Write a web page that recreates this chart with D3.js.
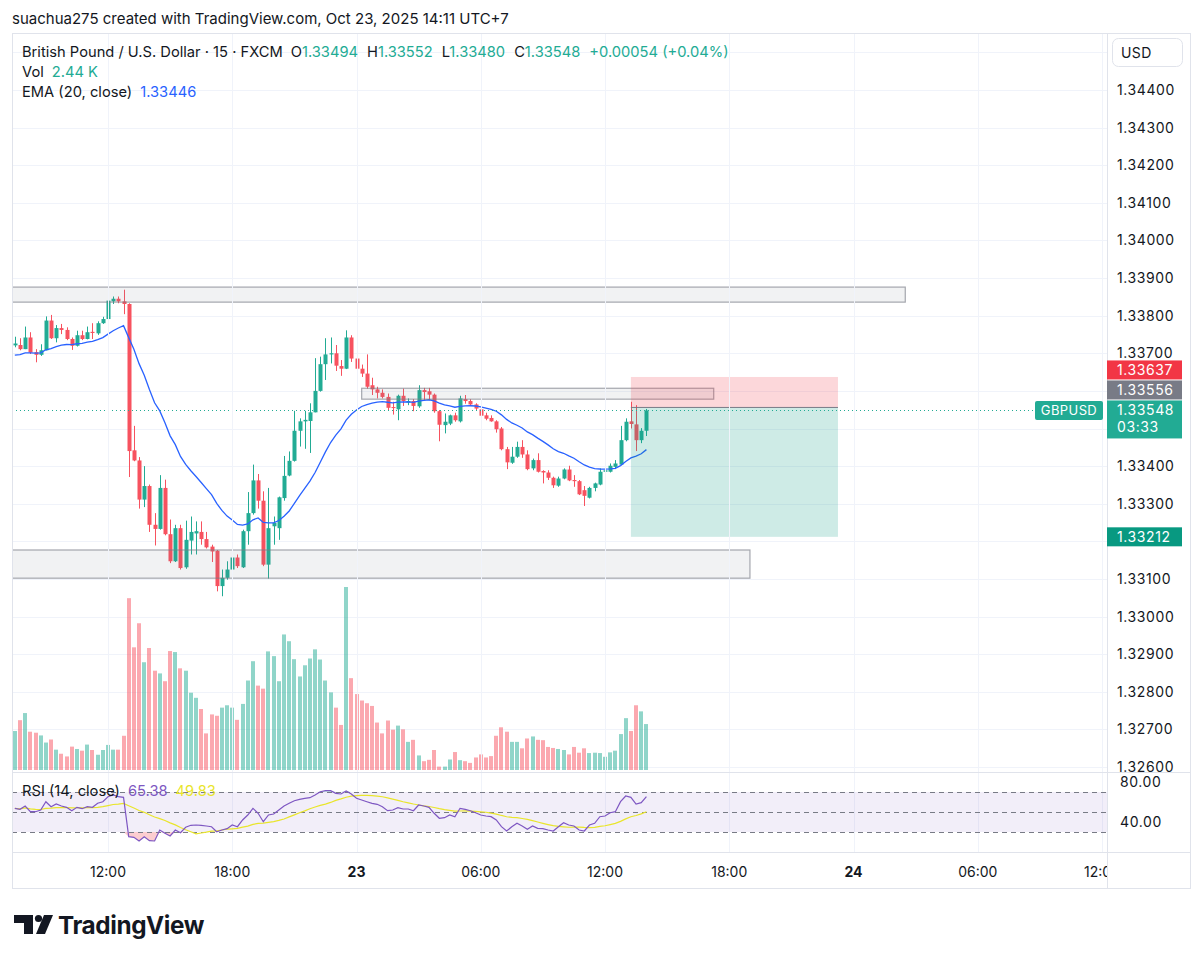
<!doctype html>
<html>
<head>
<meta charset="utf-8">
<title>GBPUSD 15 - TradingView</title>
<script src="https://cdn.jsdelivr.net/npm/d3@7"></script>
<style>
  body { margin: 0; background: #fff; }
  text { font-family: Inter, "Noto Sans", sans-serif; }
</style>
</head>
<body>
<script>
// 15 minute bars, Oct 22 07:30 -> Oct 23 14:00 (UTC+7 local time, stored as UTC)
var firstBar = Date.UTC(2025, 9, 22, 7, 30);
var barMinutes = 15;

var opens = [1.33721,1.33722,1.33711,1.33742,1.33703,1.33696,1.33708,1.33787,1.33740,1.33767,1.33762,1.33738,1.33720,1.33748,1.33738,1.33757,1.33753,1.33780,1.33791,1.33838,
  1.33845,1.33838,1.33831,1.33442,1.33415,1.33311,1.33347,1.33244,1.33233,1.33342,1.33219,1.33147,1.33235,1.33131,1.33202,1.33221,1.33225,1.33206,1.33186,1.33175,
  1.33081,1.33103,1.33125,1.33157,1.33131,1.33227,1.33275,1.33362,1.33308,1.33138,1.33240,1.33235,1.33315,1.33375,1.33414,1.33494,1.33519,1.33520,1.33543,1.33600,
  1.33671,1.33697,1.33700,1.33666,1.33659,1.33742,1.33686,1.33659,1.33646,1.33615,1.33604,1.33595,1.33584,1.33557,1.33551,1.33587,1.33569,1.33573,1.33559,1.33602,
  1.33599,1.33590,1.33546,1.33509,1.33513,1.33535,1.33519,1.33578,1.33573,1.33564,1.33551,1.33535,1.33528,1.33519,1.33500,1.33445,1.33409,1.33425,1.33451,1.33431,
  1.33394,1.33416,1.33387,1.33383,1.33369,1.33348,1.33367,1.33391,1.33363,1.33360,1.33336,1.33316,1.33342,1.33351,1.33385,1.33385,1.33398,1.33404,1.33469,1.33519,
  1.33511,1.33469,1.33494];
var highs = [1.33744,1.33740,1.33771,1.33756,1.33711,1.33724,1.33798,1.33802,1.33775,1.33778,1.33769,1.33742,1.33760,1.33760,1.33771,1.33780,1.33785,1.33797,1.33849,1.33851,
  1.33851,1.33869,1.33833,1.33507,1.33424,1.33400,1.33351,1.33275,1.33376,1.33364,1.33258,1.33244,1.33244,1.33255,1.33266,1.33253,1.33253,1.33225,1.33191,1.33177,
  1.33125,1.33147,1.33163,1.33165,1.33231,1.33331,1.33404,1.33379,1.33333,1.33342,1.33266,1.33319,1.33427,1.33439,1.33547,1.33527,1.33547,1.33567,1.33687,1.33691,
  1.33740,1.33742,1.33722,1.33682,1.33761,1.33748,1.33721,1.33670,1.33697,1.33635,1.33611,1.33604,1.33593,1.33571,1.33590,1.33606,1.33580,1.33578,1.33615,1.33608,
  1.33608,1.33593,1.33549,1.33540,1.33537,1.33542,1.33587,1.33589,1.33578,1.33567,1.33553,1.33542,1.33535,1.33522,1.33504,1.33451,1.33451,1.33465,1.33469,1.33442,
  1.33420,1.33434,1.33389,1.33389,1.33372,1.33372,1.33394,1.33401,1.33376,1.33363,1.33347,1.33345,1.33356,1.33394,1.33407,1.33407,1.33416,1.33507,1.33527,1.33571,
  1.33562,1.33501,1.33552];
var lows = [1.33716,1.33708,1.33711,1.33698,1.33676,1.33693,1.33708,1.33738,1.33729,1.33751,1.33735,1.33709,1.33718,1.33735,1.33737,1.33738,1.33749,1.33778,1.33789,1.33831,
  1.33833,1.33804,1.33371,1.33413,1.33287,1.33291,1.33225,1.33189,1.33231,1.33216,1.33142,1.33145,1.33125,1.33127,1.33165,1.33165,1.33191,1.33181,1.33145,1.33067,
  1.33054,1.33098,1.33116,1.33129,1.33129,1.33191,1.33271,1.33287,1.33134,1.33101,1.33191,1.33204,1.33308,1.33373,1.33412,1.33452,1.33446,1.33435,1.33543,1.33598,
  1.33629,1.33673,1.33653,1.33640,1.33658,1.33677,1.33637,1.33637,1.33606,1.33589,1.33580,1.33580,1.33549,1.33537,1.33522,1.33560,1.33562,1.33546,1.33555,1.33575,
  1.33575,1.33542,1.33466,1.33487,1.33509,1.33518,1.33516,1.33566,1.33562,1.33549,1.33531,1.33522,1.33518,1.33489,1.33442,1.33392,1.33406,1.33422,1.33422,1.33389,
  1.33389,1.33383,1.33354,1.33363,1.33342,1.33345,1.33365,1.33360,1.33345,1.33323,1.33294,1.33314,1.33333,1.33349,1.33378,1.33383,1.33392,1.33403,1.33466,1.33500,
  1.33440,1.33461,1.33480];
var closes = [1.33726,1.33711,1.33742,1.33702,1.33696,1.33708,1.33787,1.33740,1.33767,1.33762,1.33738,1.33720,1.33748,1.33738,1.33756,1.33754,1.33780,1.33791,1.33840,1.33845,
  1.33838,1.33831,1.33440,1.33415,1.33311,1.33347,1.33244,1.33233,1.33342,1.33219,1.33147,1.33235,1.33129,1.33204,1.33225,1.33227,1.33206,1.33184,1.33173,1.33081,
  1.33103,1.33125,1.33157,1.33134,1.33227,1.33275,1.33362,1.33308,1.33138,1.33235,1.33249,1.33317,1.33374,1.33414,1.33494,1.33519,1.33523,1.33543,1.33600,1.33671,
  1.33697,1.33700,1.33667,1.33659,1.33742,1.33686,1.33659,1.33646,1.33611,1.33604,1.33595,1.33584,1.33555,1.33555,1.33587,1.33573,1.33573,1.33560,1.33602,1.33597,
  1.33590,1.33546,1.33510,1.33518,1.33535,1.33522,1.33580,1.33573,1.33564,1.33553,1.33534,1.33526,1.33519,1.33498,1.33445,1.33410,1.33425,1.33451,1.33431,1.33392,
  1.33416,1.33385,1.33383,1.33369,1.33349,1.33367,1.33391,1.33362,1.33360,1.33325,1.33321,1.33342,1.33354,1.33385,1.33389,1.33401,1.33407,1.33469,1.33518,1.33512,
  1.33469,1.33494,1.33548];
var volumes = [2070,2646,3024,2034,1980,1836,1458,1620,1080,864,720,1242,1116,1026,1350,1062,810,1062,1332,1080,
  1080,1818,9126,6516,7794,5724,6480,5274,5130,4716,6318,6264,5400,5274,4104,3834,3240,1944,2952,2880,
  3312,3438,3312,2664,3510,4752,5778,4482,4320,6300,6048,4716,7200,6840,5886,4968,5562,5922,6408,5868,
  4752,4122,3312,2394,9720,4878,4032,3690,3546,3402,2520,1944,2628,2142,2358,2160,1494,1602,774,468,
  540,1062,180,180,558,954,522,468,378,666,828,666,738,1818,2268,2034,1494,1494,1152,1674,
  1782,1602,1584,1224,1170,1116,1062,828,1224,918,1152,900,918,900,702,936,1026,1908,2754,2070,
  3438,3114,2440];
var rsi = [53.7,52.7,56,50.3,50.3,52,60.3,55.3,58,56,54.7,51.3,54.7,53.3,55.3,54.7,58.7,60.3,65.3,67,
  65.3,64.7,25.3,24.7,21,25.3,21.3,21,32,28.7,26,32,29.3,34.7,36.7,37,36.7,36,35.3,30.3,
  32,33.3,37,35.3,42,47,53.7,48.7,40.3,47,48,52,56,58.7,61.3,62.7,63.7,64.3,67,70.3,
  71.3,71.3,68.7,68,71,68,63.7,62,60.3,58.7,57.7,55.3,51.3,52,54.3,53,53,51.3,57,56,
  54.7,48.7,43.7,44.3,47,45.3,53.7,52.7,51.3,49.3,47,46,45.3,42,35.3,31,35.3,38.7,36,32.7,
  36,33.7,33.3,32,31,35.3,39.3,37,36,32,31,37,38.7,45.3,46,49.3,50.3,60.3,66,64.7,
  58,59.3,65.38];

var emaStart = 1.33695;      // EMA(20) value read at the first visible bar
var emaLegend = "1.33446";
var rsiLegend = "65.38", rsiMaLegend = "49.83";
var volLegend = "2.44 K";

var priceTicks = [1.326,1.327,1.328,1.329,1.330,1.331,1.332,1.333,1.334,1.335,1.336,1.337,1.338,1.339,1.340,1.341,1.342,1.343,1.344,1.345];
var rsiTicks = [80, 40];
var rsiBands = [70, 50, 30];

// drawings: [from bar, to bar, top price, bottom price]
var boxes = [[-5, 172, 1.33876, 1.33836], [67, 135, 1.33607, 1.33578], [-5, 142, 1.33177, 1.33102]];
var position = { from: 119, to: 159, entry: 1.33556, stop: 1.33637, target: 1.33212 };

var ink = "#131722", teal = "#22ab94", red = "#f7525f", blue = "#2962ff", grid = "#f0f3fa", border = "#e0e3eb";

var ema = [emaStart];
for (var i = 1; i < closes.length; i++) ema.push(ema[i - 1] + (2 / 21) * (closes[i] - ema[i - 1]));
var rsiMa = rsi.map(function(v, i) { return d3.mean(rsi.slice(Math.max(0, i - 13), i + 1)); });

var bars = closes.map(function(c, i) {
  return { i: i, o: opens[i], h: highs[i], l: lows[i], c: c, v: volumes[i], up: c >= opens[i] };
});

var paneLeft = 12, paneRight = 1107, paneTop = 33, mainBottom = 772, rsiBottom = 852, axisBottom = 888, right = 1190;

var x = d3.scaleUtc()
  .domain([Date.UTC(2025, 9, 22, 12), Date.UTC(2025, 9, 24, 12)])
  .range([108, 1102]);
var bx = function(i) { return x(new Date(firstBar + i * barMinutes * 60000)); };
var y = d3.scaleLinear().domain([1.326, 1.344]).range([767, 90]);
var yRsi = d3.scaleLinear().domain([30, 70]).range([832, 792]);
var yVol = d3.scaleLinear().domain([0, d3.max(volumes)]).range([770, 587]);
var fmt = d3.format(".5f");

var timeTicks = d3.utcHour.every(6).range(Date.UTC(2025, 9, 22, 12), Date.UTC(2025, 9, 24, 13));

var svg = d3.select("body").append("svg").attr("width", 1200).attr("height", 961);
var defs = svg.append("defs");
defs.append("clipPath").attr("id", "main").append("rect")
  .attr("x", paneLeft).attr("y", paneTop).attr("width", paneRight - paneLeft).attr("height", mainBottom - paneTop);
defs.append("clipPath").attr("id", "rsi").append("rect")
  .attr("x", paneLeft).attr("y", mainBottom).attr("width", paneRight - paneLeft).attr("height", rsiBottom - mainBottom);
defs.append("clipPath").attr("id", "taxis").append("rect")
  .attr("x", paneLeft).attr("y", rsiBottom).attr("width", paneRight - paneLeft).attr("height", axisBottom - rsiBottom);
defs.append("clipPath").attr("id", "paxis").append("rect")
  .attr("x", paneRight).attr("y", paneTop).attr("width", right - paneRight).attr("height", mainBottom - paneTop);

// title
svg.append("text").attr("x", 12).attr("y", 24).attr("font-size", 15).attr("fill", ink)
  .text("suachua275 created with TradingView.com, Oct 23, 2025 14:11 UTC+7");

// grid
var main = svg.append("g").attr("clip-path", "url(#main)");
main.selectAll(".hg").data(priceTicks).enter().append("line")
  .attr("x1", paneLeft).attr("x2", paneRight)
  .attr("y1", function(d) { return Math.round(y(d)) + 0.5; })
  .attr("y2", function(d) { return Math.round(y(d)) + 0.5; })
  .attr("stroke", grid);
svg.append("g").selectAll("line").data(timeTicks).enter().append("line")
  .attr("x1", function(d) { return Math.round(x(d)) + 0.5; })
  .attr("x2", function(d) { return Math.round(x(d)) + 0.5; })
  .attr("y1", paneTop).attr("y2", rsiBottom)
  .attr("stroke", grid);

// volume
main.selectAll(".vol").data(bars).enter().append("rect")
  .attr("x", function(d) { return Math.round(bx(d.i)) - 2; })
  .attr("width", 4)
  .attr("y", function(d) { return yVol(d.v); })
  .attr("height", function(d) { return yVol(0) - yVol(d.v); })
  .attr("fill", function(d) { return d.up ? "rgba(34,171,148,0.5)" : "rgba(247,82,95,0.5)"; });

// candles
var candle = main.selectAll(".candle").data(bars).enter().append("g");
candle.append("line")
  .attr("x1", function(d) { return Math.round(bx(d.i)) + 0.5; })
  .attr("x2", function(d) { return Math.round(bx(d.i)) + 0.5; })
  .attr("y1", function(d) { return y(d.h); })
  .attr("y2", function(d) { return y(d.l); })
  .attr("stroke", function(d) { return d.up ? teal : red; });
candle.append("rect")
  .attr("x", function(d) { return Math.round(bx(d.i)) - 1.5; })
  .attr("width", 4)
  .attr("y", function(d) { return y(Math.max(d.o, d.c)); })
  .attr("height", function(d) { return Math.max(1, Math.abs(y(d.o) - y(d.c))); })
  .attr("fill", function(d) { return d.up ? teal : red; });

// EMA
main.append("path").datum(ema)
  .attr("fill", "none").attr("stroke", blue).attr("stroke-width", 1.3)
  .attr("d", d3.line().x(function(d, i) { return bx(i); }).y(function(d) { return y(d); }));

// drawn boxes
main.selectAll(".box").data(boxes).enter().append("rect")
  .attr("x", function(d) { return bx(d[0]); })
  .attr("width", function(d) { return bx(d[1]) - bx(d[0]); })
  .attr("y", function(d) { return y(d[2]); })
  .attr("height", function(d) { return y(d[3]) - y(d[2]); })
  .attr("fill", "rgba(120,123,134,0.1)").attr("stroke", "rgba(120,123,134,0.65)").attr("stroke-width", 1.2);

// long/short position tool
var px1 = bx(position.from), px2 = bx(position.to);
main.append("rect").attr("x", px1).attr("width", px2 - px1)
  .attr("y", y(position.stop)).attr("height", y(position.entry) - y(position.stop))
  .attr("fill", "rgba(242,54,69,0.2)");
main.append("rect").attr("x", px1).attr("width", px2 - px1)
  .attr("y", y(position.entry)).attr("height", y(position.target) - y(position.entry))
  .attr("fill", "rgba(8,153,129,0.2)");
main.append("line").attr("x1", px1).attr("x2", px2)
  .attr("y1", y(position.entry)).attr("y2", y(position.entry))
  .attr("stroke", "#787b86").attr("stroke-width", 1);

// last price line
var last = bars[bars.length - 1], prev = bars[bars.length - 2];
main.append("line").attr("x1", paneLeft).attr("x2", 1035)
  .attr("y1", Math.round(y(last.c)) + 0.5).attr("y2", Math.round(y(last.c)) + 0.5)
  .attr("stroke", teal).attr("stroke-dasharray", "1,3");
svg.append("rect").attr("x", 1035).attr("y", y(last.c) - 9.5).attr("width", 68).attr("height", 19).attr("rx", 2).attr("fill", teal);
svg.append("text").attr("x", 1069).attr("y", y(last.c) + 5).attr("text-anchor", "middle")
  .attr("font-size", 13).attr("letter-spacing", 0.4).attr("fill", "#fff").text("GBPUSD");

// legend
var leg = svg.append("text").attr("x", 22).attr("y", 57).attr("font-size", 14.7).attr("fill", ink);
leg.append("tspan").text("British Pound / U.S. Dollar · 15 · FXCM");
[["O", last.o], ["H", last.h], ["L", last.l], ["C", last.c]].forEach(function(d, k) {
  leg.append("tspan").attr("dx", k === 0 ? 8 : 9).text(d[0]);
  leg.append("tspan").attr("fill", teal).text(fmt(d[1]));
});
var chg = last.c - prev.c;
leg.append("tspan").attr("dx", 9).attr("fill", teal)
  .text((chg >= 0 ? "+" : "") + fmt(chg) + " (" + (chg >= 0 ? "+" : "") + (chg / prev.c * 100).toFixed(2) + "%)");
var leg2 = svg.append("text").attr("x", 22).attr("y", 77).attr("font-size", 14.7).attr("fill", ink);
leg2.append("tspan").text("Vol");
leg2.append("tspan").attr("dx", 8).attr("fill", teal).text(volLegend);
var leg3 = svg.append("text").attr("x", 22).attr("y", 97).attr("font-size", 14.7).attr("fill", ink);
leg3.append("tspan").text("EMA (20, close)");
leg3.append("tspan").attr("dx", 8).attr("fill", blue).text(emaLegend);

// RSI pane
var rp = svg.append("g").attr("clip-path", "url(#rsi)");
rp.append("rect").attr("x", paneLeft).attr("width", paneRight - paneLeft)
  .attr("y", yRsi(70)).attr("height", yRsi(30) - yRsi(70)).attr("fill", "rgba(126,87,194,0.1)");
rp.append("path").datum(rsi)
  .attr("fill", "rgba(242,54,69,0.25)")
  .attr("d", d3.area().x(function(d, i) { return bx(i); })
    .y0(yRsi(30)).y1(function(d) { return yRsi(Math.min(d, 30)); }));
rp.append("path").datum(rsi)
  .attr("fill", "rgba(8,153,129,0.25)")
  .attr("d", d3.area().x(function(d, i) { return bx(i); })
    .y0(yRsi(70)).y1(function(d) { return yRsi(Math.max(d, 70)); }));
rp.selectAll(".band").data(rsiBands).enter().append("line")
  .attr("x1", paneLeft).attr("x2", paneRight)
  .attr("y1", function(d) { return Math.round(yRsi(d)) + 0.5; })
  .attr("y2", function(d) { return Math.round(yRsi(d)) + 0.5; })
  .attr("stroke", "#787b86").attr("stroke-dasharray", "5,4");
rp.append("path").datum(rsiMa)
  .attr("fill", "none").attr("stroke", "#e9e52b").attr("stroke-width", 1.2)
  .attr("d", d3.line().x(function(d, i) { return bx(i); }).y(function(d) { return yRsi(d); }));
rp.append("path").datum(rsi)
  .attr("fill", "none").attr("stroke", "#7e57c2").attr("stroke-width", 1.2)
  .attr("d", d3.line().x(function(d, i) { return bx(i); }).y(function(d) { return yRsi(d); }));
var rl = svg.append("text").attr("x", 22).attr("y", 796).attr("font-size", 14.7).attr("fill", ink);
rl.append("tspan").text("RSI (14, close)");
rl.append("tspan").attr("dx", 8).attr("fill", "#7e57c2").text(rsiLegend);
rl.append("tspan").attr("dx", 8).attr("fill", "#e9e52b").text(rsiMaLegend);

// frame
svg.append("rect").attr("x", paneLeft + 0.5).attr("y", paneTop + 0.5)
  .attr("width", right - paneLeft).attr("height", axisBottom - paneTop)
  .attr("fill", "none").attr("stroke", border);
[mainBottom, rsiBottom].forEach(function(v) {
  svg.append("line").attr("x1", paneLeft).attr("x2", right).attr("y1", v + 0.5).attr("y2", v + 0.5).attr("stroke", border);
});
svg.append("line").attr("x1", paneRight + 0.5).attr("x2", paneRight + 0.5).attr("y1", paneTop).attr("y2", axisBottom).attr("stroke", border);

// price axis labels (stacked so they do not overlap)
var tags = [
  { p: last.c, h: 38, fill: teal, lines: [fmt(last.c), "03:33"] },
  { p: position.entry, h: 19, fill: "#787b86", lines: [fmt(position.entry)] },
  { p: position.stop, h: 19, fill: "#f23645", lines: [fmt(position.stop)] },
  { p: position.target, h: 19, fill: "#089981", lines: [fmt(position.target)] }
];
tags.forEach(function(t) { t.top = (t.h > 19 ? y(t.p) - 10 : y(t.p) - 9.5); });
for (var k = 1; k < 3; k++) {
  if (tags[k].top + tags[k].h > tags[k - 1].top - 1) tags[k].top = tags[k - 1].top - 1 - tags[k].h;
}
var pax = svg.append("g").attr("clip-path", "url(#paxis)");
pax.selectAll(".pt").data(priceTicks.filter(function(p) {
    return !tags.some(function(t) { return y(p) > t.top - 4 && y(p) < t.top + t.h + 4; }) && p < 1.3445;
  })).enter().append("text")
  .attr("x", 1117).attr("y", function(d) { return y(d) + 5; })
  .attr("font-size", 14).attr("letter-spacing", 0.6).attr("fill", ink).text(fmt);
tags.forEach(function(t) {
  svg.append("rect").attr("x", paneRight).attr("y", t.top).attr("width", 75).attr("height", t.h).attr("fill", t.fill);
  t.lines.forEach(function(s, j) {
    svg.append("text").attr("x", 1117).attr("y", t.top + 14.5 + j * 17).attr("font-size", 14)
      .attr("letter-spacing", 0.6).attr("fill", "#fff").text(s);
  });
});
svg.append("rect").attr("x", 1112.5).attr("y", 38.5).attr("width", 70).attr("height", 28).attr("rx", 6)
  .attr("fill", "#fff").attr("stroke", border);
svg.append("text").attr("x", 1121).attr("y", 58).attr("font-size", 14).attr("letter-spacing", 0.4).attr("fill", ink).text("USD");

svg.selectAll(".rt").data(rsiTicks).enter().append("text")
  .attr("x", 1120).attr("y", function(d) { return yRsi(d) + 5; })
  .attr("font-size", 14).attr("letter-spacing", 0.6).attr("fill", ink).text(function(d) { return d.toFixed(2); });

// time axis
svg.append("g").attr("clip-path", "url(#taxis)")
  .selectAll("text").data(timeTicks).enter().append("text")
  .attr("x", function(d) { return x(d); }).attr("y", 877)
  .attr("text-anchor", "middle").attr("font-size", 14).attr("fill", ink)
  .attr("font-weight", function(d) { return d.getUTCHours() === 0 ? 700 : 400; })
  .text(function(d) { return d.getUTCHours() === 0 ? d3.utcFormat("%-d")(d) : d3.utcFormat("%H:%M")(d); });

// TradingView logo
var logo = svg.append("g").attr("fill", "#131722");
logo.append("path").attr("d", "M14,915 H33 V934 H24 V923 H14 Z");
logo.append("circle").attr("cx", 38.5).attr("cy", 918.5).attr("r", 3.6);
logo.append("path").attr("d", "M44,915 H53 L45,934 H36 Z");
svg.append("text").attr("x", 58).attr("y", 934).attr("font-size", 24.3).attr("font-weight", 700)
  .attr("fill", "#131722").attr("letter-spacing", -0.4).text("TradingView");
</script>
</body>
</html>
